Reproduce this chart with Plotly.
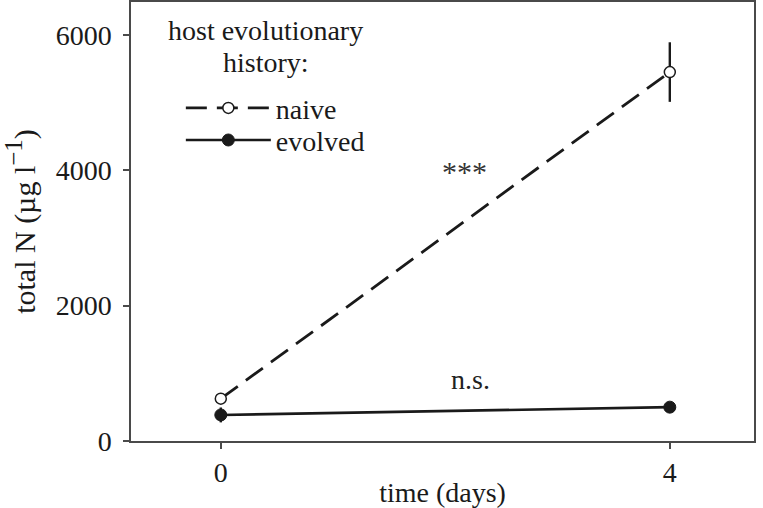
import plotly.graph_objects as go

time_days = [0, 4]
naive_N = [625, 5450]
naive_err = [60, 440]
evolved_N = [385, 500]
evolved_err = [110, 40]
x_ticks = [0, 4]
y_ticks = [0, 2000, 4000, 6000]

FONT = "Liberation Serif, Times New Roman, serif"
INK = "#1a1a1a"
AX = "#4a4a4a"
FS = 28

fig = go.Figure()
fig.add_trace(go.Scatter(
    x=time_days, y=naive_N, name="naive", mode="lines+markers", legend="legend",
    line=dict(color=INK, width=2.8, dash="21px,10px"),
    marker=dict(symbol="circle", size=11, color="white", line=dict(color=INK, width=1.5)),
    error_y=dict(type="data", array=naive_err, color=INK, thickness=2.4, width=0),
))
fig.add_trace(go.Scatter(
    x=time_days, y=evolved_N, name="evolved", mode="lines+markers", legend="legend2",
    line=dict(color=INK, width=2.6),
    marker=dict(symbol="circle", size=12, color=INK, line=dict(color=INK, width=1)),
    error_y=dict(type="data", array=evolved_err, color=INK, thickness=2.4, width=0),
))

fig.add_annotation(x=2.17, y=3975, text="***", showarrow=False,
                   font=dict(family=FONT, size=30, color="#333"))
fig.add_annotation(x=2.22, y=910, text="n.s.", showarrow=False,
                   font=dict(family=FONT, size=FS, color="#222"))
fig.add_annotation(xref="paper", yref="paper", x=0.216, y=0.936, xanchor="center", yanchor="middle",
                   text="host evolutionary", showarrow=False,
                   font=dict(family=FONT, size=FS, color=INK))
fig.add_annotation(xref="paper", yref="paper", x=0.216, y=0.863, xanchor="center", yanchor="middle",
                   text="history:", showarrow=False,
                   font=dict(family=FONT, size=FS, color=INK))

axis_common = dict(
    showgrid=False, zeroline=False, showline=True, linecolor=AX, linewidth=1.5,
    mirror=True, ticks="outside", ticklen=6, tickwidth=1.5, tickcolor=AX,
    tickfont=dict(family=FONT, size=FS, color=INK), automargin=False,
)
fig.update_xaxes(range=[-0.80, 4.75], tickvals=x_ticks, ticktext=[str(t) for t in x_ticks],
                 title=dict(text="time (days)", font=dict(family=FONT, size=FS, color=INK), standoff=2),
                 **axis_common)
fig.update_yaxes(range=[0, 6485], tickvals=y_ticks, ticktext=[str(t) for t in y_ticks],
                 ticklabelstandoff=6,
                 title=dict(text="total N (µg l<sup><span style='font-size:25px'>−1</span></sup>)",
                            font=dict(family=FONT, size=30, color=INK), standoff=13),
                 **axis_common)

leg_common = dict(
    xanchor="left", yanchor="middle",
    font=dict(family=FONT, size=FS, color=INK),
    itemwidth=85, bgcolor="rgba(0,0,0,0)", visible=True,
)
fig.update_layout(
    width=763, height=508,
    margin=dict(l=131, r=9, t=2, b=67),
    paper_bgcolor="white", plot_bgcolor="white",
    font=dict(family=FONT, color=INK),
    showlegend=True,
    legend=dict(x=0.080, y=0.758, **leg_common),
    legend2=dict(x=0.080, y=0.685, **leg_common),
)

fig.write_html("out.html", config={"displayModeBar": False},
               post_script="document.body.style.margin='0';")
